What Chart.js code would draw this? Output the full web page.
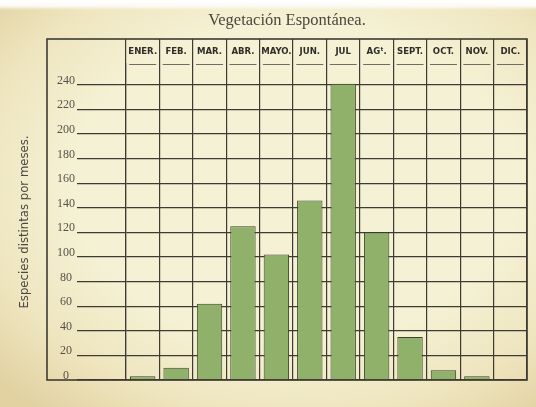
<!DOCTYPE html>
<html>
<head>
<meta charset="utf-8">
<script src="https://cdn.jsdelivr.net/npm/chart.js@4"></script>
<style>
  html, body { margin: 0; padding: 0; background: #fff; }
  #wrap {
    position: relative; width: 536px; height: 407px; overflow: hidden;
    background:
      linear-gradient(to bottom, #ffffff 0px, #fbfaf4 6px, rgba(255,255,255,0) 10px),
      radial-gradient(ellipse 75% 72% at 55% 45%, #f5f1d4 55%, #efe6c0 78%, #e2d2a2 100%);
  }
  canvas { position: absolute; left: 0; top: 0; }
</style>
</head>
<body>
<div id="wrap"><canvas id="c" width="536" height="407"></canvas></div>
<script>
const months = ['ENER.', 'FEB.', 'MAR.', 'ABR.', 'MAYO.', 'JUN.', 'JUL', 'AGᵗ.', 'SEPT.', 'OCT.', 'NOV.', 'DIC.'];
const especies = [3, 10, 62, 125, 102, 146, 241, 120, 35, 8, 3, 0];
const chartTitle = 'Vegetación Espontánea.';
const yTitle = 'Especies distintas por meses.';

const ink = '#3e3b33';

const decor = {
  id: 'decor',
  afterDraw(chart) {
    const ctx = chart.ctx;
    const ca = chart.chartArea;
    const xs = chart.scales.x;
    const frameLeft = 47, frameTop = 39;
    ctx.save();
    // header underline segments, one per month column
    ctx.strokeStyle = '#6f6c62';
    ctx.lineWidth = 1.2;
    ctx.beginPath();
    months.forEach((m, i) => {
      const cx = xs.getPixelForValue(i);
      ctx.moveTo(cx - 13.5, ca.top + 0.5);
      ctx.lineTo(cx + 13.5, ca.top + 0.5);
    });
    ctx.stroke();
    // outer frame
    ctx.strokeStyle = ink;
    ctx.lineWidth = 1.6;
    ctx.strokeRect(frameLeft, frameTop, ca.right - frameLeft, ca.bottom - frameTop);
    // title
    ctx.fillStyle = '#4a473f';
    ctx.font = '16.5px "Liberation Serif"';
    ctx.textAlign = 'center';
    ctx.textBaseline = 'middle';
    ctx.fillText(chartTitle, (frameLeft + ca.right) / 2, 21);
    ctx.restore();
  }
};

new Chart(document.getElementById('c'), {
  type: 'bar',
  data: {
    labels: months,
    datasets: [{
      data: especies,
      backgroundColor: '#8fb169',
      borderColor: '#3d4230',
      borderWidth: 1,
      barPercentage: 0.76,
      categoryPercentage: 1
    }]
  },
  options: {
    responsive: false,
    animation: false,
    layout: { padding: { left: 10, right: 9, top: 39, bottom: 27 } },
    plugins: { legend: { display: false }, tooltip: { enabled: false }, title: { display: false } },
    scales: {
      x: {
        position: 'top',
        afterFit(s) { s.height = 25; },
        grid: { offset: true, color: ink, lineWidth: 1.2, tickLength: 25 },
        border: { display: false },
        ticks: {
          color: '#2f2d28',
          padding: -18,
          autoSkip: false,
          maxRotation: 0,
          minRotation: 0,
          font: { family: '"DejaVu Sans Condensed", "Liberation Sans Narrow", "Liberation Sans", sans-serif', size: 9.5, weight: 'bold' }
        }
      },
      y: {
        min: 0,
        max: 257,
        afterFit(s) { s.width = 116; },
        grid: { color: ink, lineWidth: 1.2, tickLength: 49 },
        border: { display: true, color: ink, width: 1.2 },
        ticks: {
          stepSize: 20,
          includeBounds: false,
          crossAlign: 'center',
          padding: 2,
          color: '#55524a',
          font: { family: '"Liberation Serif", serif', size: 12, lineHeight: 0.7 },
          callback: (v) => [String(v), '']
        },
        title: {
          display: true,
          text: yTitle,
          color: '#4a473f',
          padding: { top: 7, bottom: 4 },
          font: { family: '"DejaVu Sans Condensed", "Liberation Sans Narrow", sans-serif', size: 13 }
        }
      }
    }
  },
  plugins: [decor]
});
</script>
</body>
</html>
